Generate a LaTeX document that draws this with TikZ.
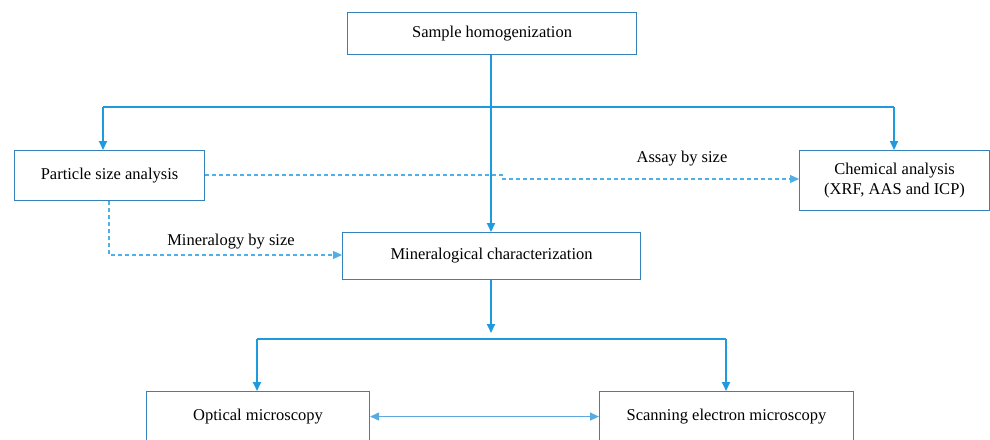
\documentclass[tikz,border=0pt]{standalone}
\usepackage{fontspec}
\setmainfont{Liberation Serif}
\usetikzlibrary{arrows.meta}
\definecolor{boxc}{RGB}{52,130,185}
\definecolor{linec}{RGB}{30,155,222}
\definecolor{dashc}{RGB}{80,175,230}
\definecolor{dblc}{RGB}{90,170,225}
\begin{document}
\begin{tikzpicture}[x=1pt,y=-1pt,
  box/.style={draw=boxc,line width=1.1pt,fill=white,inner sep=0pt,anchor=north west,align=center,font=\fontsize{16.5}{20}\selectfont},
  tip/.style={-{Triangle[length=9pt,width=8pt]}},
  main/.style={draw=linec,line width=2pt,tip},
  dsh/.style={draw=dashc,line width=1.1pt,dash pattern=on 4pt off 3pt,tip},
  dbl/.style={draw=dblc,line width=1.3pt,{Triangle[length=9pt,width=8pt]}-{Triangle[length=9pt,width=8pt]}},
  lbl/.style={font=\fontsize{16.5}{20}\selectfont}]
\useasboundingbox (0,0) rectangle (990,439);
\begin{scope}
\clip (0,0) rectangle (990,439);
\node[box,minimum width=289pt,minimum height=42pt] (sh) at (347,12) {Sample homogenization};
\node[box,minimum width=190pt,minimum height=50pt] (pa) at (14,150) {Particle size analysis};
\node[box,minimum width=190pt,minimum height=60pt] (ch) at (799,150) {Chemical analysis\\(XRF, AAS and ICP)};
\node[box,minimum width=298pt,minimum height=47pt] (mc) at (342,232) {Mineralogical characterization};
\node[box,minimum width=223pt,minimum height=50pt] (om) at (146,391) {Optical microscopy};
\node[box,minimum width=254pt,minimum height=50pt] (sem) at (599,391) {Scanning electron microscopy};
\end{scope}
\coordinate (hl) at (103,107);
\coordinate (hr) at (894,107);
\coordinate (hc) at (491,107);
\draw[draw=linec,line width=2pt] (hl) -- (hr);
\draw[main] (sh.south -| hc) -- (mc.north -| hc);
\draw[main] (hl) -- (hl |- pa.north);
\draw[main] (hr) -- (hr |- ch.north);
\coordinate (bl) at (257,339);
\coordinate (br) at (726,339);
\coordinate (bm) at (491,333);
\draw[main] (mc.south -| bm) -- (bm);
\draw[draw=linec,line width=2pt] (bl) -- (br);
\draw[main] (bl) -- (bl |- om.north);
\draw[main] (br) -- (br |- sem.north);
\draw[dbl] (om.east) -- (sem.west);
\coordinate (k1) at (502,175);
\coordinate (k2) at (502,179);
\draw[dsh] (pa.east |- k1) -- (k1) -- (k2) -- (ch.west |- k2);
\coordinate (m1) at (109,255);
\draw[dsh] (pa.south -| m1) -- (m1) -- (mc.west |- m1);
\node[lbl] (l1) at (682,159) {Assay by size};
\node[lbl] (l2) at (231,242) {Mineralogy by size};
\end{tikzpicture}
\end{document}
